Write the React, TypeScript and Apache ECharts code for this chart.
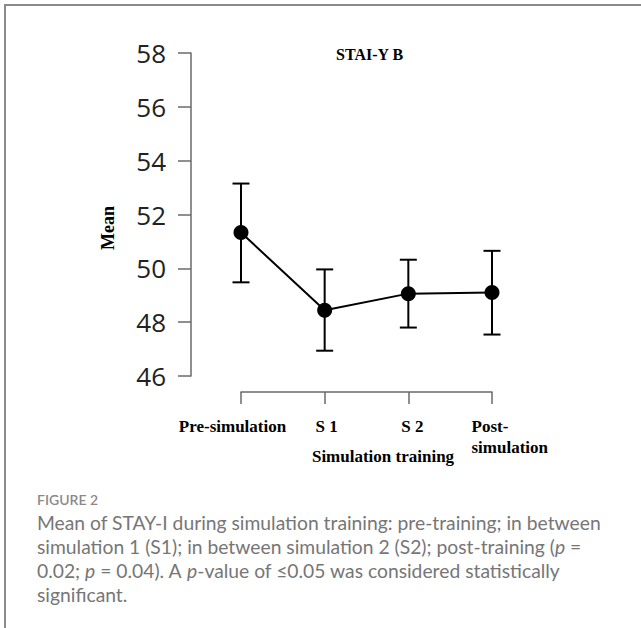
import React, { useEffect, useRef } from "react";
import * as echarts from "echarts";

const categories = ["Pre-simulation", "S 1", "S 2", "Post-simulation"];
const means = [51.33, 48.44, 49.06, 49.1];
const lower = [49.48, 46.94, 47.8, 47.54];
const upper = [53.15, 49.96, 50.32, 50.65];
const yTicks = { min: 46, max: 58, interval: 2 };

const SERIF = "'Liberation Serif', 'Times New Roman', serif";
const CAP_FONT = "Lato, 'Open Sans', sans-serif";

export default function App() {
  const ref = useRef<HTMLDivElement>(null);
  useEffect(() => {
    if (!ref.current) return;
    const chart = echarts.init(ref.current, undefined, { renderer: "svg" });
    const errData = categories.map((_, i) => [i, lower[i], upper[i]]);
    chart.setOption({
      animation: false,
      backgroundColor: "#fff",
      title: {
        text: "STAI-Y B",
        left: 336,
        top: 46,
        padding: 0,
        textStyle: { fontFamily: SERIF, fontWeight: "bold", fontSize: 16, color: "#000", lineHeight: 16 },
      },
      grid: { left: 241, top: 53, width: 251, height: 323 },
      xAxis: {
        type: "category",
        data: categories,
        boundaryGap: false,
        position: "bottom",
        offset: 16,
        axisLine: { lineStyle: { color: "#6a6a6a", width: 1.5 } },
        axisTick: { show: true, length: 12, inside: false, alignWithLabel: true, lineStyle: { color: "#6a6a6a", width: 1.5 } },
        splitLine: { show: false },
        axisLabel: {
          interval: 0,
          margin: 24,
          fontFamily: SERIF,
          fontWeight: "bold",
          fontSize: 17,
          color: "#000",
          lineHeight: 21,
          formatter: (_v: string, idx: number) => {
            if (idx === 0) return "{a|" + categories[0] + "}";
            if (idx === 1) return "{b|" + categories[1] + "}";
            if (idx === 2) return "{c|" + categories[2] + "}";
            return "{d|Post-}\n{d|simulation}";
          },
          rich: {
            a: { fontFamily: SERIF, fontWeight: "bold", fontSize: 17, color: "#000", lineHeight: 21, padding: [0, 17, 0, 0] },
            b: { fontFamily: SERIF, fontWeight: "bold", fontSize: 17, color: "#000", lineHeight: 21, padding: [0, 0, 0, 4] },
            c: { fontFamily: SERIF, fontWeight: "bold", fontSize: 17, color: "#000", lineHeight: 21, padding: [0, 0, 0, 8] },
            d: { fontFamily: SERIF, fontWeight: "bold", fontSize: 17, color: "#000", lineHeight: 21, width: 76, align: "left", padding: [0, 0, 0, 35] },
          },
        },
        name: "Simulation training",
        nameLocation: "middle",
        nameGap: 56,
        nameMoveOverlap: false,
        nameTextStyle: { fontFamily: SERIF, fontWeight: "bold", fontSize: 17, color: "#000", padding: [0, 0, 0, 33] },
      },
      yAxis: {
        type: "value",
        min: yTicks.min,
        max: yTicks.max,
        interval: yTicks.interval,
        offset: 50,
        axisLine: { show: true, lineStyle: { color: "#6a6a6a", width: 1.5 } },
        axisTick: { show: true, length: 13, inside: false, lineStyle: { color: "#6a6a6a", width: 1.5 } },
        splitLine: { show: false },
        axisLabel: { margin: 25, fontFamily: "Open Sans", fontSize: 26, color: "#222" },
        name: "Mean",
        nameLocation: "middle",
        nameRotate: 90,
        nameGap: 74,
        nameMoveOverlap: false,
        nameTextStyle: { fontFamily: SERIF, fontWeight: "bold", fontSize: 18, color: "#000", padding: [0, 27, 0, 0] },
      },
      series: [
        {
          type: "custom",
          data: errData,
          z: 2,
          renderItem: (_p: any, api: any) => {
            const x = api.value(0);
            const pLo = api.coord([x, api.value(1)]);
            const pHi = api.coord([x, api.value(2)]);
            const hw = 8.5;
            const st = { stroke: "#000", lineWidth: 2 };
            return {
              type: "group",
              children: [
                { type: "line", shape: { x1: pLo[0], y1: pLo[1], x2: pHi[0], y2: pHi[1] }, style: st },
                { type: "line", shape: { x1: pLo[0] - hw, y1: pLo[1], x2: pLo[0] + hw, y2: pLo[1] }, style: st },
                { type: "line", shape: { x1: pHi[0] - hw, y1: pHi[1], x2: pHi[0] + hw, y2: pHi[1] }, style: st },
              ],
            };
          },
        },
        {
          type: "line",
          data: means,
          z: 3,
          symbol: "circle",
          symbolSize: 15,
          itemStyle: { color: "#000" },
          lineStyle: { color: "#000", width: 2 },
        },
      ],
      graphic: [
        {
          type: "polyline",
          shape: { points: [[5, 640], [5, 5], [650, 5]] },
          style: { stroke: "#8a8a8a", lineWidth: 2, fill: "none" },
        },
        {
          type: "text",
          left: 37,
          top: 492,
          style: { text: "FIGURE 2", fontFamily: CAP_FONT, fontSize: 14, fontWeight: 600, fill: "#8a8a8a" },
        },
        {
          type: "text",
          left: 37,
          top: 510,
          style: {
            text:
              "Mean of STAY-I during simulation training: pre-training; in between\n" +
              "simulation 1 (S1); in between simulation 2 (S2); post-training ({i|p} =\n" +
              "0.02; {i|p} = 0.04). A {i|p}-value of ≤0.05 was considered statistically\n" +
              "significant.",
            fontFamily: CAP_FONT,
            fontSize: 19.3,
            lineHeight: 24,
            fill: "#767676",
            rich: {
              i: { fontFamily: CAP_FONT, fontSize: 19.3, lineHeight: 24, fontStyle: "italic", fill: "#767676" },
            },
          },
        },
      ],
    });
    return () => chart.dispose();
  }, []);
  return <div ref={ref} style={{ position: "absolute", left: 0, top: 0, width: 641, height: 628 }} />;
}
